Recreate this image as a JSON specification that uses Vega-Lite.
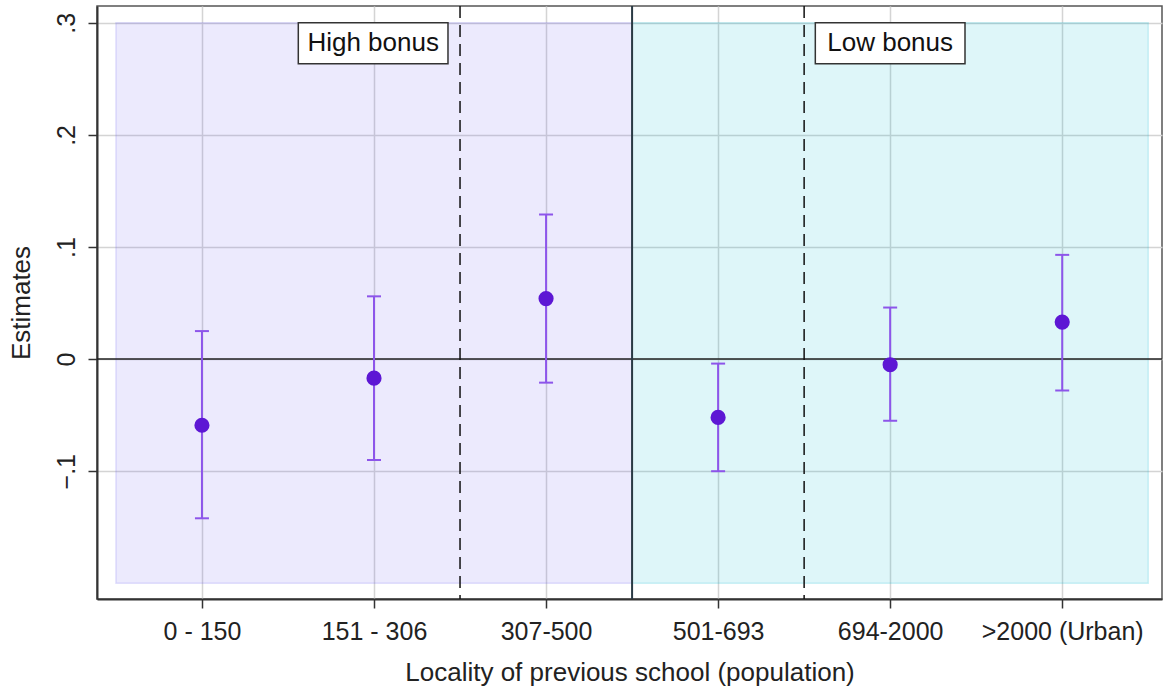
{
  "$schema": "https://vega.github.io/schema/vega-lite/v6.json",
  "description": "Estimates by locality of previous school, with 95% intervals.",
  "width": 1065,
  "height": 593,
  "autosize": {"type": "none"},
  "padding": {"left": 97, "top": 6, "right": 1, "bottom": 91},
  "config": {
    "font": "Liberation Sans",
    "view": {"stroke": "#555", "strokeWidth": 1.5},
    "axis": {
      "domainColor": "#333",
      "domainWidth": 2,
      "tickColor": "#333",
      "tickSize": 9,
      "tickWidth": 1.5,
      "gridColor": "#d4d4d4",
      "gridWidth": 1.5,
      "labelFont": "Liberation Sans",
      "labelFontSize": 25,
      "labelColor": "#222",
      "titleFont": "Liberation Sans",
      "titleFontSize": 26,
      "titleFontWeight": "normal",
      "titleColor": "#222"
    }
  },
  "datasets": {
    "estimates": [
      {"cat": 1, "locality": "0 - 150", "est": -0.059, "lo": -0.142, "hi": 0.025},
      {"cat": 2, "locality": "151 - 306", "est": -0.017, "lo": -0.090, "hi": 0.056},
      {"cat": 3, "locality": "307-500", "est": 0.054, "lo": -0.021, "hi": 0.129},
      {"cat": 4, "locality": "501-693", "est": -0.052, "lo": -0.100, "hi": -0.004},
      {"cat": 5, "locality": "694-2000", "est": -0.005, "lo": -0.055, "hi": 0.046},
      {"cat": 6, "locality": ">2000 (Urban)", "est": 0.033, "lo": -0.028, "hi": 0.093}
    ],
    "regions": [
      {"region": "High bonus", "start": 0.5, "end": 3.5, "bottom": -0.2, "top": 0.3, "color": "high"},
      {"region": "Low bonus", "start": 3.5, "end": 6.5, "bottom": -0.2, "top": 0.3, "color": "low"}
    ],
    "one": [{}]
  },
  "layer": [
    {
      "data": {"name": "regions"},
      "mark": {"type": "rect", "fillOpacity": 0.13, "strokeOpacity": 0.18, "strokeWidth": 1.5},
      "encoding": {
        "x": {
          "field": "start",
          "type": "quantitative",
          "scale": {"domain": [0.39, 6.58], "nice": false, "zero": false},
          "axis": {
            "values": [1, 2, 3, 4, 5, 6],
            "labelExpr": "['0 - 150','151 - 306','307-500','501-693','694-2000','>2000 (Urban)'][datum.value - 1]",
            "labelPadding": 11,
            "titlePadding": 15,
            "title": "Locality of previous school (population)"
          }
        },
        "x2": {"field": "end"},
        "y": {
          "field": "bottom",
          "type": "quantitative",
          "scale": {"domain": [-0.214, 0.315], "nice": false, "zero": false},
          "axis": {
            "values": [-0.1, 0, 0.1, 0.2, 0.3],
            "labelAngle": -90,
            "labelPadding": 9,
            "labelExpr": "datum.value == 0 ? '0' : replace(format(datum.value, '.1f'), '0.', '.')",
            "titlePadding": 20,
            "title": "Estimates"
          }
        },
        "y2": {"field": "top"},
        "fill": {
          "field": "color",
          "type": "nominal",
          "scale": {"domain": ["high", "low"], "range": ["#6a60f2", "#00b8d0"]},
          "legend": null
        },
        "stroke": {
          "field": "color",
          "type": "nominal",
          "scale": {"domain": ["high", "low"], "range": ["#6a60f2", "#00b8d0"]},
          "legend": null
        }
      }
    },
    {
      "data": {"name": "one"},
      "mark": {"type": "rule", "color": "#222", "strokeWidth": 1.5},
      "encoding": {"y": {"datum": 0}}
    },
    {
      "data": {"name": "one"},
      "mark": {"type": "rule", "color": "#2a3a44", "strokeWidth": 2},
      "encoding": {"x": {"datum": 3.5}}
    },
    {
      "data": {"name": "one"},
      "mark": {"type": "rule", "color": "#111", "strokeWidth": 1.5, "strokeDash": [12, 7]},
      "encoding": {"x": {"datum": 2.5}}
    },
    {
      "data": {"name": "one"},
      "mark": {"type": "rule", "color": "#111", "strokeWidth": 1.5, "strokeDash": [12, 7]},
      "encoding": {"x": {"datum": 4.5}}
    },
    {
      "data": {"name": "one"},
      "mark": {"type": "rect", "fill": "white", "stroke": "#333", "strokeWidth": 1.5},
      "encoding": {
        "x": {"datum": 1.56},
        "x2": {"datum": 2.43},
        "y": {"datum": 0.3},
        "y2": {"datum": 0.2635}
      }
    },
    {
      "data": {"name": "one"},
      "mark": {"type": "rect", "fill": "white", "stroke": "#333", "strokeWidth": 1.5},
      "encoding": {
        "x": {"datum": 4.565},
        "x2": {"datum": 5.435},
        "y": {"datum": 0.3},
        "y2": {"datum": 0.2635}
      }
    },
    {
      "data": {"name": "regions"},
      "transform": [{"filter": "datum.region == 'High bonus'"}],
      "mark": {"type": "text", "fontSize": 26, "color": "#111", "baseline": "middle"},
      "encoding": {
        "x": {"datum": 1.995},
        "y": {"datum": 0.2818},
        "text": {"field": "region"}
      }
    },
    {
      "data": {"name": "regions"},
      "transform": [{"filter": "datum.region == 'Low bonus'"}],
      "mark": {"type": "text", "fontSize": 26, "color": "#111", "baseline": "middle"},
      "encoding": {
        "x": {"datum": 5.0},
        "y": {"datum": 0.2818},
        "text": {"field": "region"}
      }
    },
    {
      "data": {"name": "estimates"},
      "mark": {"type": "rule", "color": "#8d55ea", "strokeWidth": 2},
      "encoding": {
        "x": {"field": "cat", "type": "quantitative"},
        "y": {"field": "lo", "type": "quantitative"},
        "y2": {"field": "hi"}
      }
    },
    {
      "data": {"name": "estimates"},
      "mark": {"type": "tick", "color": "#8d55ea", "orient": "horizontal", "size": 14, "thickness": 2, "opacity": 1},
      "encoding": {
        "x": {"field": "cat", "type": "quantitative"},
        "y": {"field": "lo", "type": "quantitative"}
      }
    },
    {
      "data": {"name": "estimates"},
      "mark": {"type": "tick", "color": "#8d55ea", "orient": "horizontal", "size": 14, "thickness": 2, "opacity": 1},
      "encoding": {
        "x": {"field": "cat", "type": "quantitative"},
        "y": {"field": "hi", "type": "quantitative"}
      }
    },
    {
      "data": {"name": "estimates"},
      "mark": {"type": "circle", "color": "#5d17d4", "size": 230, "opacity": 1},
      "encoding": {
        "x": {"field": "cat", "type": "quantitative"},
        "y": {"field": "est", "type": "quantitative"},
        "tooltip": [
          {"field": "locality", "type": "nominal"},
          {"field": "est", "type": "quantitative"},
          {"field": "lo", "type": "quantitative"},
          {"field": "hi", "type": "quantitative"}
        ]
      }
    }
  ]
}
